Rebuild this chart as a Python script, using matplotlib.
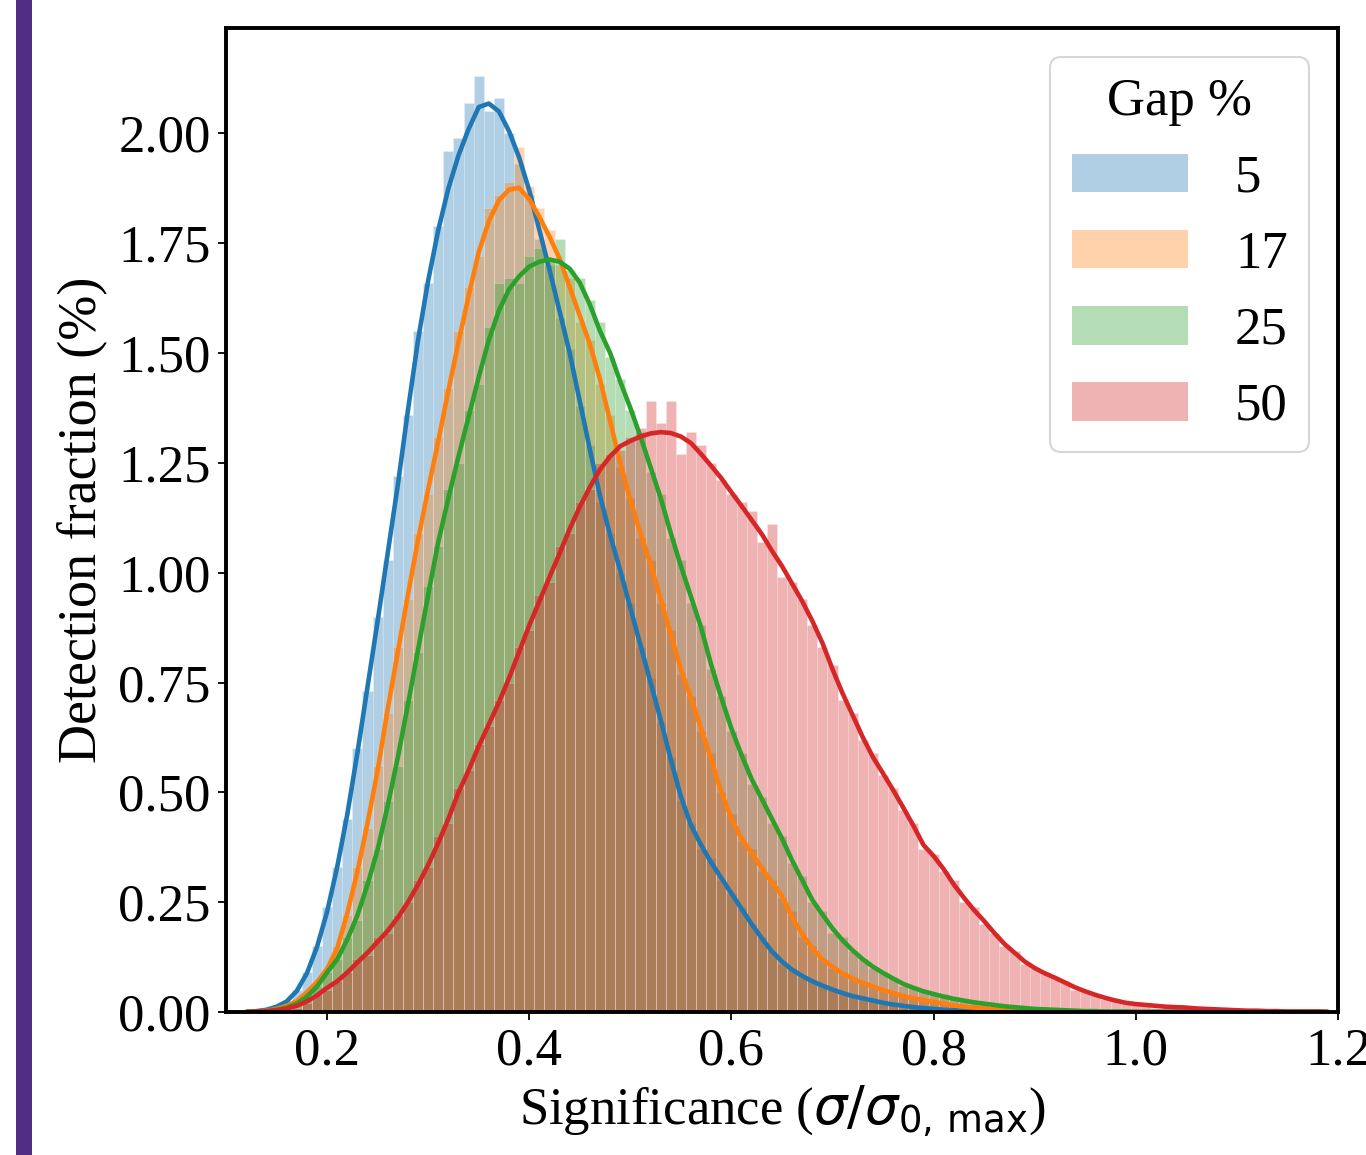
import numpy as np
import matplotlib
matplotlib.use("Agg")
import matplotlib.pyplot as plt
from matplotlib.patches import Patch, Rectangle

plt.rcParams['font.family'] = ['Liberation Serif', 'DejaVu Serif']
plt.rcParams['mathtext.fontset'] = 'dejavusans'

# ############ Datos
gaps = ['5', '17', '25', '50']
colores = ['#1f77b4', '#ff7f0e', '#2ca02c', '#d62728']

# puntos de muestreo 0.12 ... 1.19 (paso 0.01)
x = np.round(np.arange(0.12, 1.195, 0.01), 2)

# curvas KDE
kde_5 = [0.000, 0.002, 0.005, 0.012, 0.024, 0.048, 0.088, 0.148, 0.228, 0.330,
         0.450, 0.590, 0.740, 0.890, 1.045, 1.200, 1.370, 1.530, 1.665, 1.780,
         1.875, 1.950, 2.010, 2.060, 2.068, 2.050, 2.005, 1.945, 1.870, 1.780,
         1.690, 1.595, 1.500, 1.390, 1.280, 1.175, 1.085, 1.005, 0.920, 0.835,
         0.750, 0.665, 0.575, 0.490, 0.425, 0.380, 0.340, 0.305, 0.270, 0.235,
         0.200, 0.168, 0.138, 0.115, 0.096, 0.082, 0.070, 0.060, 0.051, 0.043,
         0.036, 0.031, 0.026, 0.021, 0.017, 0.014, 0.011, 0.009, 0.007, 0.005,
         0.004, 0.003, 0.002, 0.002, 0.001, 0.001, 0.001, 0.001, 0.000, 0.000,
         0.000, 0.000, 0.000, 0.000, 0.000, 0.000, 0.000, 0.000, 0.000, 0.000,
         0.000, 0.000, 0.000, 0.000, 0.000, 0.000, 0.000, 0.000, 0.000, 0.000,
         0.000, 0.000, 0.000, 0.000, 0.000, 0.000, 0.000, 0.000]
kde_17 = [0.000, 0.001, 0.003, 0.007, 0.014, 0.025, 0.045, 0.068, 0.098, 0.145,
          0.225, 0.320, 0.430, 0.550, 0.690, 0.820, 0.950, 1.075, 1.190, 1.300,
          1.415, 1.525, 1.630, 1.730, 1.800, 1.848, 1.872, 1.876, 1.850, 1.810,
          1.765, 1.715, 1.650, 1.585, 1.520, 1.440, 1.345, 1.250, 1.165, 1.090,
          1.020, 0.940, 0.860, 0.780, 0.715, 0.645, 0.575, 0.500, 0.440, 0.395,
          0.362, 0.328, 0.295, 0.265, 0.215, 0.178, 0.145, 0.120, 0.103, 0.088,
          0.076, 0.066, 0.058, 0.050, 0.043, 0.036, 0.031, 0.027, 0.023, 0.019,
          0.015, 0.012, 0.010, 0.008, 0.006, 0.005, 0.004, 0.003, 0.002, 0.002,
          0.001, 0.001, 0.001, 0.001, 0.000, 0.000, 0.000, 0.000, 0.000, 0.000,
          0.000, 0.000, 0.000, 0.000, 0.000, 0.000, 0.000, 0.000, 0.000, 0.000,
          0.000, 0.000, 0.000, 0.000, 0.000, 0.000, 0.000, 0.000]
kde_25 = [0.000, 0.001, 0.002, 0.005, 0.010, 0.019, 0.035, 0.058, 0.090, 0.120,
          0.165, 0.220, 0.290, 0.370, 0.470, 0.580, 0.700, 0.825, 0.950, 1.070,
          1.170, 1.265, 1.355, 1.445, 1.530, 1.597, 1.645, 1.675, 1.697, 1.708,
          1.713, 1.708, 1.692, 1.660, 1.610, 1.550, 1.500, 1.435, 1.375, 1.310,
          1.240, 1.170, 1.090, 1.015, 0.945, 0.875, 0.790, 0.715, 0.645, 0.585,
          0.530, 0.485, 0.440, 0.395, 0.345, 0.300, 0.255, 0.222, 0.190, 0.163,
          0.140, 0.120, 0.103, 0.089, 0.076, 0.064, 0.055, 0.047, 0.041, 0.035,
          0.030, 0.026, 0.022, 0.019, 0.016, 0.013, 0.011, 0.009, 0.007, 0.006,
          0.005, 0.004, 0.003, 0.002, 0.002, 0.001, 0.001, 0.001, 0.000, 0.000,
          0.000, 0.000, 0.000, 0.000, 0.000, 0.000, 0.000, 0.000, 0.000, 0.000,
          0.000, 0.000, 0.000, 0.000, 0.000, 0.000, 0.000, 0.000]
kde_50 = [0.000, 0.001, 0.002, 0.004, 0.008, 0.014, 0.024, 0.038, 0.055, 0.070,
          0.090, 0.113, 0.135, 0.160, 0.185, 0.215, 0.250, 0.290, 0.335, 0.385,
          0.440, 0.500, 0.550, 0.605, 0.655, 0.705, 0.760, 0.820, 0.880, 0.935,
          0.990, 1.044, 1.100, 1.150, 1.195, 1.235, 1.265, 1.288, 1.300, 1.310,
          1.317, 1.320, 1.318, 1.310, 1.295, 1.270, 1.243, 1.215, 1.183, 1.152,
          1.120, 1.088, 1.050, 1.015, 0.975, 0.935, 0.890, 0.840, 0.780, 0.725,
          0.675, 0.625, 0.580, 0.543, 0.505, 0.465, 0.424, 0.380, 0.355, 0.325,
          0.290, 0.260, 0.232, 0.207, 0.180, 0.155, 0.135, 0.115, 0.100, 0.088,
          0.078, 0.067, 0.056, 0.047, 0.039, 0.032, 0.026, 0.021, 0.018, 0.016,
          0.014, 0.012, 0.011, 0.010, 0.008, 0.007, 0.006, 0.005, 0.004, 0.003,
          0.003, 0.002, 0.002, 0.001, 0.001, 0.001, 0.001, 0.000]

# alturas de los histogramas (bins de 0.01)
hist_5 = [0.00, 0.00, 0.01, 0.01, 0.02, 0.05, 0.09, 0.15, 0.24, 0.33,
          0.44, 0.60, 0.73, 0.90, 1.03, 1.22, 1.36, 1.55, 1.66, 1.79,
          1.96, 1.99, 2.07, 2.13, 2.05, 2.08, 2.00, 1.93, 1.86, 1.76,
          1.70, 1.58, 1.51, 1.38, 1.29, 1.16, 1.09, 1.00, 0.93, 0.83,
          0.76, 0.66, 0.58, 0.48, 0.43, 0.37, 0.35, 0.30, 0.27, 0.24,
          0.20, 0.17, 0.14, 0.11, 0.10, 0.08, 0.07, 0.06, 0.05, 0.04,
          0.04, 0.03, 0.03, 0.02, 0.02, 0.01, 0.01, 0.01, 0.01, 0.01,
          0.00, 0.00, 0.00, 0.00, 0.00, 0.00, 0.00, 0.00, 0.00, 0.00,
          0.00, 0.00, 0.00, 0.00, 0.00, 0.00, 0.00, 0.00, 0.00, 0.00,
          0.00, 0.00, 0.00, 0.00, 0.00, 0.00, 0.00, 0.00, 0.00, 0.00,
          0.00, 0.00, 0.00, 0.00, 0.00, 0.00, 0.00, 0.00]
hist_17 = [0.00, 0.00, 0.00, 0.01, 0.01, 0.02, 0.04, 0.07, 0.10, 0.15,
           0.22, 0.33, 0.42, 0.56, 0.68, 0.83, 0.94, 1.09, 1.18, 1.31,
           1.42, 1.55, 1.65, 1.72, 1.83, 1.86, 1.89, 1.97, 1.88, 1.83,
           1.78, 1.70, 1.67, 1.57, 1.53, 1.43, 1.36, 1.24, 1.17, 1.08,
           1.03, 0.93, 0.87, 0.77, 0.72, 0.64, 0.59, 0.50, 0.45, 0.39,
           0.37, 0.32, 0.30, 0.26, 0.23, 0.17, 0.15, 0.12, 0.10, 0.09,
           0.08, 0.07, 0.06, 0.05, 0.04, 0.04, 0.03, 0.03, 0.02, 0.02,
           0.02, 0.01, 0.01, 0.01, 0.01, 0.00, 0.00, 0.00, 0.00, 0.00,
           0.00, 0.00, 0.00, 0.00, 0.00, 0.00, 0.00, 0.00, 0.00, 0.00,
           0.00, 0.00, 0.00, 0.00, 0.00, 0.00, 0.00, 0.00, 0.00, 0.00,
           0.00, 0.00, 0.00, 0.00, 0.00, 0.00, 0.00, 0.00]
hist_25 = [0.00, 0.00, 0.00, 0.00, 0.01, 0.02, 0.03, 0.06, 0.09, 0.12,
           0.17, 0.21, 0.30, 0.37, 0.48, 0.56, 0.71, 0.82, 0.97, 1.06,
           1.19, 1.25, 1.37, 1.43, 1.56, 1.66, 1.67, 1.66, 1.72, 1.74,
           1.71, 1.76, 1.69, 1.67, 1.62, 1.57, 1.49, 1.44, 1.37, 1.32,
           1.23, 1.18, 1.08, 1.03, 0.93, 0.88, 0.78, 0.72, 0.64, 0.59,
           0.52, 0.49, 0.43, 0.40, 0.34, 0.31, 0.25, 0.23, 0.18, 0.17,
           0.14, 0.12, 0.10, 0.09, 0.08, 0.06, 0.06, 0.05, 0.04, 0.04,
           0.03, 0.03, 0.02, 0.02, 0.02, 0.01, 0.01, 0.01, 0.01, 0.01,
           0.01, 0.00, 0.00, 0.00, 0.00, 0.00, 0.00, 0.00, 0.00, 0.00,
           0.00, 0.00, 0.00, 0.00, 0.00, 0.00, 0.00, 0.00, 0.00, 0.00,
           0.00, 0.00, 0.00, 0.00, 0.00, 0.00, 0.00, 0.00]
hist_50 = [0.00, 0.00, 0.00, 0.00, 0.01, 0.01, 0.02, 0.04, 0.05, 0.07,
           0.09, 0.12, 0.13, 0.17, 0.18, 0.22, 0.25, 0.30, 0.33, 0.40,
           0.43, 0.51, 0.55, 0.61, 0.65, 0.71, 0.75, 0.83, 0.87, 0.95,
           0.98, 1.06, 1.09, 1.16, 1.19, 1.25, 1.27, 1.28, 1.31, 1.33,
           1.39, 1.34, 1.39, 1.27, 1.32, 1.29, 1.25, 1.21, 1.18, 1.16,
           1.14, 1.07, 1.11, 0.99, 0.98, 0.94, 0.88, 0.83, 0.79, 0.71,
           0.68, 0.62, 0.59, 0.54, 0.51, 0.46, 0.43, 0.37, 0.36, 0.32,
           0.30, 0.25, 0.24, 0.20, 0.18, 0.15, 0.14, 0.11, 0.10, 0.09,
           0.08, 0.07, 0.05, 0.05, 0.04, 0.03, 0.03, 0.02, 0.02, 0.02,
           0.01, 0.01, 0.01, 0.01, 0.01, 0.01, 0.01, 0.00, 0.00, 0.00,
           0.00, 0.00, 0.00, 0.00, 0.00, 0.00, 0.00, 0.00]

kdes = [kde_5, kde_17, kde_25, kde_50]
hists = [hist_5, hist_17, hist_25, hist_50]

# ############ Figura
fs = 38
fig = plt.figure(figsize=(13.66, 11.55), dpi=100)
ax = fig.add_axes([226 / 1366, 1 - 1012 / 1155, 1112 / 1366, 984 / 1155])

# barra morada del borde izquierdo
fig.patches.append(Rectangle((16 / 1366, 0), 16 / 1366, 1, transform=fig.transFigure,
                             facecolor='#512d84', edgecolor='none'))

# histogramas: 5 % abajo, 50 % arriba
for h, c in zip(hists, colores):
    ax.bar(x, h, width=0.01, color=c, alpha=0.35, edgecolor='white', linewidth=0.4, zorder=1)

for k, c in zip(kdes, colores):
    ax.plot(x, k, color=c, lw=3.3, zorder=2, solid_capstyle='round')

ax.set_xlim(0.1, 1.2)
ax.set_ylim(0, 2.24)
ax.set_xticks([0.2, 0.4, 0.6, 0.8, 1.0, 1.2])
ax.set_yticks([0, 0.25, 0.5, 0.75, 1.0, 1.25, 1.5, 1.75, 2.0])
ax.yaxis.set_major_formatter(matplotlib.ticker.FormatStrFormatter('%.2f'))
ax.tick_params(labelsize=fs, length=6, width=1.3, pad=5)
for s in ax.spines.values():
    s.set_linewidth(2.8)

ax.set_xlabel(r'Significance ($\sigma/\sigma_{0,\,\mathrm{max}}$)', fontsize=fs, labelpad=6)
ax.set_ylabel('Detection fraction (%)', fontsize=39, labelpad=8)

handles = [Patch(facecolor=c, alpha=0.35, edgecolor='none') for c in colores]
leg = ax.legend(handles, gaps, title='Gap %', loc='upper right', fontsize=fs,
                title_fontsize=fs, handlelength=2.2, handleheight=0.75,
                labelspacing=0.52, handletextpad=0.9, borderaxespad=0.55,
                frameon=True, fancybox=True)
leg.get_frame().set_edgecolor('#cccccc')
leg.get_frame().set_linewidth(1.5)

fig.savefig('out.png', dpi=100)
